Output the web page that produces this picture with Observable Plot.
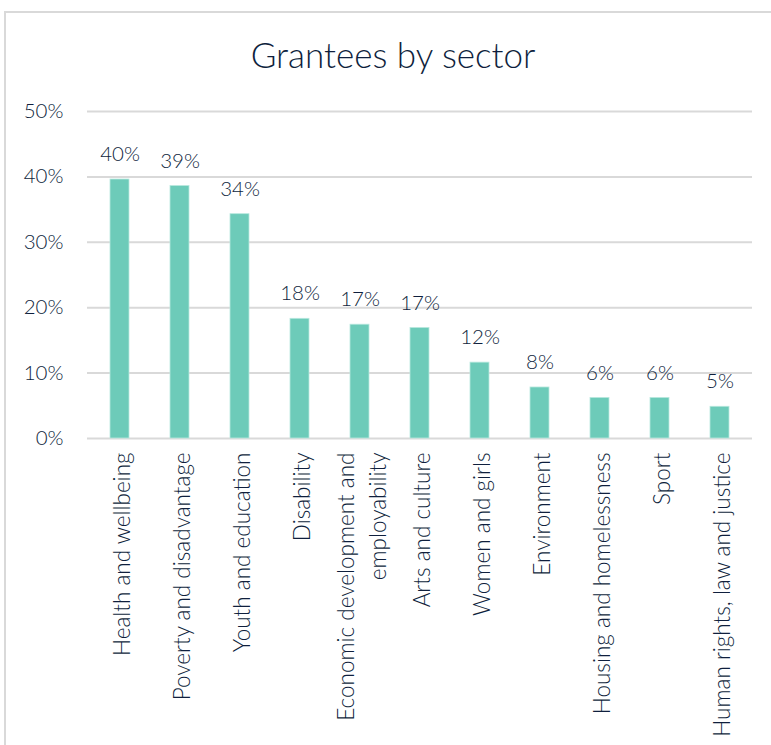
<!DOCTYPE html>
<html>
<head>
<meta charset="utf-8">
<script src="https://cdn.jsdelivr.net/npm/d3@7"></script>
<script src="https://cdn.jsdelivr.net/npm/@observablehq/plot@0.6"></script>
<style>
  html, body { margin: 0; padding: 0; background: #fff; }
  #wrap { position: relative; width: 771px; height: 745px; overflow: hidden; font-family: Lato, "Open Sans", sans-serif; }
  #frame { position: absolute; left: 4px; top: 11px; width: 800px; height: 800px; border: 2px solid #d9d9d9; box-sizing: border-box; }
  #title { position: absolute; left: 4px; width: 778px; top: 34px; text-align: center; font-size: 35px; font-weight: 300; color: #0f1f3d; line-height: 40px; }
  #chart { position: absolute; left: 0; top: 0; }
</style>
</head>
<body>
<div id="wrap">
  <div id="frame"></div>
  <div id="title">Grantees by sector</div>
  <div id="chart"></div>
</div>
<script>
const categories = [
  "Health and wellbeing",
  "Poverty and disadvantage",
  "Youth and education",
  "Disability",
  "Economic development and employability",
  "Arts and culture",
  "Women and girls",
  "Environment",
  "Housing and homelessness",
  "Sport",
  "Human rights, law and justice"
];
const tickLabels = [
  "Health and wellbeing",
  "Poverty and disadvantage",
  "Youth and education",
  "Disability",
  "Economic development and\nemployability",
  "Arts and culture",
  "Women and girls",
  "Environment",
  "Housing and homelessness",
  "Sport",
  "Human rights, law and justice"
];
const values = [39.6, 38.6, 34.3, 18.3, 17.4, 16.9, 11.6, 7.8, 6.2, 6.2, 4.85];
const yTicks = [0, 10, 20, 30, 40, 50];

const data = categories.map((c, i) => ({category: c, value: values[i], label: tickLabels[i]}));

const textColor = "#0f1f3d";
const font = "Lato, 'Open Sans', sans-serif";

const chart = Plot.plot({
  width: 771,
  height: 745,
  marginTop: 111,
  marginBottom: 307,
  marginLeft: 87,
  marginRight: 19,
  style: {fontFamily: font, color: textColor, background: "transparent", overflow: "visible"},
  x: {domain: categories, paddingInner: 0.686, paddingOuter: 0.343, axis: null},
  y: {domain: [0, 50], axis: null},
  marks: [
    Plot.ruleY(yTicks, {stroke: "#d9d9d9", strokeWidth: 2}),
    Plot.barY(data, {x: "category", y: "value", fill: "#6dcbb9", stroke: "#b8e8de", strokeWidth: 0.8}),
    Plot.axisY({ticks: yTicks, tickSize: 0, tickPadding: 24, tickFormat: d => d + "%", fontSize: 20.5, fontWeight: 300, fill: textColor, label: null}),
    Plot.text(data, {x: "category", y: "value", text: d => Math.round(d.value) + "%", dy: -25, lineAnchor: "middle", fontSize: 20.5, fontWeight: 300, fill: textColor}),
    Plot.text(data, {x: "category", frameAnchor: "bottom", text: "label", rotate: -90, textAnchor: "end", lineAnchor: "middle", dy: 14, lineHeight: 1.4, fontSize: 22.5, fontWeight: 300, fill: textColor})
  ]
});
document.getElementById("chart").appendChild(chart);
</script>
</body>
</html>
